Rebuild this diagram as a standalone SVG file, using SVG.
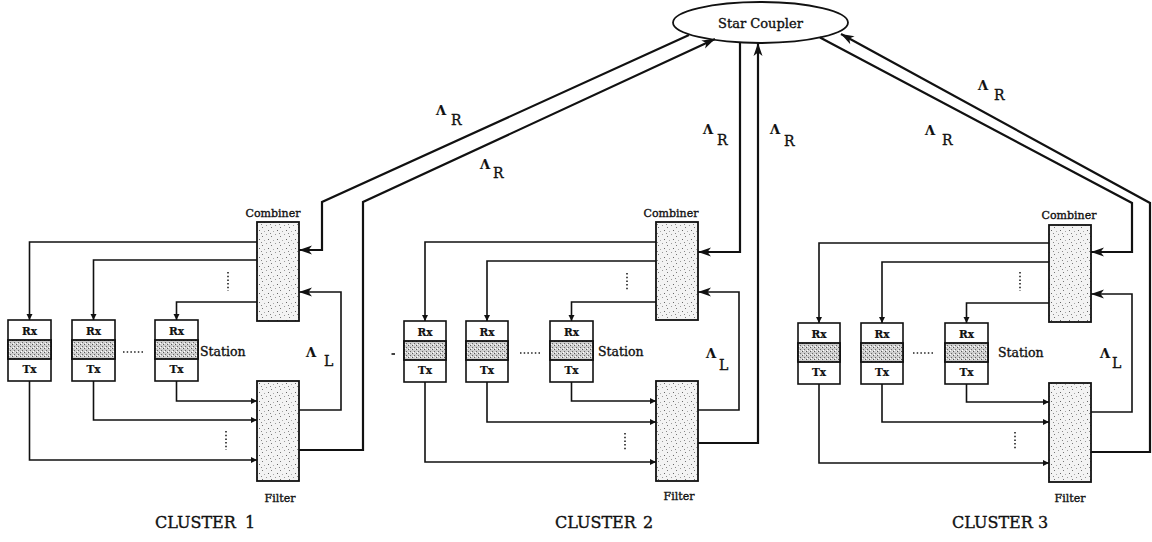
<svg xmlns="http://www.w3.org/2000/svg" width="1152" height="542" viewBox="0 0 1152 542">
<style>
 .ln{fill:none;stroke:#111;stroke-width:1.6}
 .th{fill:none;stroke:#111;stroke-width:2.2}
 .box{fill:url(#stip);stroke:#111;stroke-width:1.8}
 .st{fill:#fff;stroke:#111;stroke-width:1.6}
 .band{fill:url(#dense);stroke:#111;stroke-width:1.8}
 .dots{fill:none;stroke:#222;stroke-width:1.6;stroke-dasharray:1.5 2.2}
 .cpl{fill:#fff;stroke:#111;stroke-width:1.8}
 text{font-family:"DejaVu Serif","Liberation Serif",serif;fill:#111;stroke:#111;stroke-width:0.35}
 .lbl{font-size:11px;text-anchor:middle}
 .sta{font-size:12.5px}
 .rt{font-size:10.5px;font-weight:bold;text-anchor:middle;stroke-width:0.2}
 .cl{font-size:16px}
 .lam{font-size:13px;font-weight:bold;stroke-width:0.2}
 .sub{font-size:14px}
</style>
<defs>
 <pattern id="stip" width="9" height="9" patternUnits="userSpaceOnUse">
  <rect width="9" height="9" fill="#f3f3f3"/>
  <rect x="1" y="2" width="1" height="1" fill="#777"/>
  <rect x="5" y="0" width="1" height="1" fill="#999"/>
  <rect x="7" y="5" width="1" height="1" fill="#666"/>
  <rect x="3" y="6" width="1" height="1" fill="#aaa"/>
  <rect x="0" y="8" width="1" height="1" fill="#888"/>
 </pattern>
 <pattern id="dense" width="4" height="4" patternUnits="userSpaceOnUse">
  <rect width="4" height="4" fill="#cdcdcd"/>
  <rect x="0" y="0" width="1" height="1" fill="#555"/>
  <rect x="2" y="2" width="1" height="1" fill="#666"/>
  <rect x="3" y="0" width="1" height="1" fill="#eee"/>
  <rect x="1" y="3" width="1" height="1" fill="#fff"/>
 </pattern>
 <marker id="big" markerUnits="userSpaceOnUse" markerWidth="14" markerHeight="10" refX="13" refY="5" orient="auto" overflow="visible">
  <path d="M0,0.5 L13,5 L0,9.5 L3.5,5 z" fill="#111"/>
 </marker>
 <marker id="sm" markerUnits="userSpaceOnUse" markerWidth="7" markerHeight="6" refX="6" refY="3" orient="auto" overflow="visible">
  <path d="M0,0 L6,3 L0,6 z" fill="#111"/>
 </marker>
</defs>
<rect width="1152" height="542" fill="#fff"/>

<g id="star-coupler">
 <ellipse class="cpl" cx="760.5" cy="22.5" rx="87.5" ry="20.5"/>
 <text x="760.5" y="28" class="lbl" style="font-size:13px">Star Coupler</text>
</g>

<!-- Cluster 1 -->
<g id="c1-combiner"><rect class="box" x="257" y="222" width="42" height="99"/><text x="273" y="217" class="lbl">Combiner</text></g>
<g id="c1-filter"><rect class="box" x="257" y="381" width="42" height="100"/><text x="280" y="502" class="lbl">Filter</text></g>
<g id="c1-station1" transform="translate(8,320)"><rect class="st" width="43" height="61"/><rect class="band" y="20" width="43" height="19"/><text x="21.5" y="15" class="rt">Rx</text><text x="21.5" y="53" class="rt">Tx</text></g>
<g id="c1-station2" transform="translate(72,320)"><rect class="st" width="43" height="61"/><rect class="band" y="20" width="43" height="19"/><text x="21.5" y="15" class="rt">Rx</text><text x="21.5" y="53" class="rt">Tx</text></g>
<g id="c1-station3" transform="translate(155,320)"><rect class="st" width="43" height="61"/><rect class="band" y="20" width="43" height="19"/><text x="21.5" y="15" class="rt">Rx</text><text x="21.5" y="53" class="rt">Tx</text></g>
<g id="c1-labels">
 <text x="200" y="356" class="sta">Station</text>
 <path class="dots" d="M123,352 H143 M228,272 V291 M226,431 V450"/>
 <text x="306" y="357" class="lam">Λ</text><text x="324" y="366" class="sub">L</text>
 <text x="155" y="528" class="cl">CLUSTER<tspan x="245">1</tspan></text>
</g>

<!-- Cluster 2 -->
<g id="c2-combiner"><rect class="box" x="656" y="222" width="42" height="98"/><text x="671" y="217" class="lbl">Combiner</text></g>
<g id="c2-filter"><rect class="box" x="656" y="381" width="42" height="100"/><text x="679" y="500" class="lbl">Filter</text></g>
<g id="c2-station1" transform="translate(404,321)"><rect class="st" width="42" height="61"/><rect class="band" y="20" width="42" height="19"/><text x="21" y="15" class="rt">Rx</text><text x="21" y="53" class="rt">Tx</text></g>
<g id="c2-station2" transform="translate(466,321)"><rect class="st" width="42" height="61"/><rect class="band" y="20" width="42" height="19"/><text x="21" y="15" class="rt">Rx</text><text x="21" y="53" class="rt">Tx</text></g>
<g id="c2-station3" transform="translate(550,321)"><rect class="st" width="43" height="61"/><rect class="band" y="20" width="43" height="19"/><text x="21.5" y="15" class="rt">Rx</text><text x="21.5" y="53" class="rt">Tx</text></g>
<g id="c2-labels">
 <text x="598" y="356" class="sta">Station</text>
 <path class="dots" d="M520,353 H542 M627,273 V291 M625,433 V451"/>
 <path class="ln" d="M391.5,354 H395"/>
 <text x="706" y="358" class="lam">Λ</text><text x="719" y="370" class="sub">L</text>
 <text x="555" y="528" class="cl">CLUSTER<tspan x="643">2</tspan></text>
</g>

<!-- Cluster 3 -->
<g id="c3-combiner"><rect class="box" x="1049" y="225" width="42" height="97"/><text x="1069" y="219" class="lbl">Combiner</text></g>
<g id="c3-filter"><rect class="box" x="1049" y="383" width="42" height="99"/><text x="1070" y="502" class="lbl">Filter</text></g>
<g id="c3-station1" transform="translate(798,323)"><rect class="st" width="42" height="61"/><rect class="band" y="20" width="42" height="19"/><text x="21" y="15" class="rt">Rx</text><text x="21" y="53" class="rt">Tx</text></g>
<g id="c3-station2" transform="translate(861,323)"><rect class="st" width="42" height="61"/><rect class="band" y="20" width="42" height="19"/><text x="21" y="15" class="rt">Rx</text><text x="21" y="53" class="rt">Tx</text></g>
<g id="c3-station3" transform="translate(945,323)"><rect class="st" width="43" height="61"/><rect class="band" y="20" width="43" height="19"/><text x="21.5" y="15" class="rt">Rx</text><text x="21.5" y="53" class="rt">Tx</text></g>
<g id="c3-labels">
 <text x="998" y="357" class="sta">Station</text>
 <path class="dots" d="M913,353 H935 M1020,272 V291 M1015,432 V449"/>
 <text x="1100" y="358" class="lam">Λ</text><text x="1112" y="368" class="sub">L</text>
 <text x="952" y="528" class="cl">CLUSTER<tspan x="1038">3</tspan></text>
</g>

<g id="lambda-r-labels">
 <text x="436" y="115" class="lam">Λ</text><text x="451" y="125" class="sub">R</text>
 <text x="480" y="169" class="lam">Λ</text><text x="493" y="178" class="sub">R</text>
 <text x="703" y="134" class="lam">Λ</text><text x="717" y="145" class="sub">R</text>
 <text x="770" y="134" class="lam">Λ</text><text x="784" y="146" class="sub">R</text>
 <text x="978" y="90" class="lam">Λ</text><text x="994" y="100" class="sub">R</text>
 <text x="925" y="135" class="lam">Λ</text><text x="942" y="145" class="sub">R</text>
</g>

<g id="connectors">
 <!-- cluster 1 -->
 <path class="ln" d="M257,242 H29.5 V320" marker-end="url(#sm)"/>
 <path class="ln" d="M257,260 H93.5 V320" marker-end="url(#sm)"/>
 <path class="ln" d="M257,302 H176.5 V320" marker-end="url(#sm)"/>
 <path class="ln" d="M176.5,381 V401 H257" marker-end="url(#sm)"/>
 <path class="ln" d="M93.5,381 V420 H257" marker-end="url(#sm)"/>
 <path class="ln" d="M29.5,381 V460 H257" marker-end="url(#sm)"/>
 <path class="ln" d="M299,410 H341 V292 H299" marker-end="url(#big)"/>
 <path class="th" d="M689,35 L322,202 V250 H299" marker-end="url(#big)"/>
 <path class="th" d="M299,450 H363 V202 L715,39" marker-end="url(#big)"/>
 <!-- cluster 2 -->
 <path class="ln" d="M656,242 H425 V321" marker-end="url(#sm)"/>
 <path class="ln" d="M656,261 H487 V321" marker-end="url(#sm)"/>
 <path class="ln" d="M656,302 H571.5 V321" marker-end="url(#sm)"/>
 <path class="ln" d="M571.5,382 V401 H656" marker-end="url(#sm)"/>
 <path class="ln" d="M487,382 V422 H656" marker-end="url(#sm)"/>
 <path class="ln" d="M425,382 V462 H656" marker-end="url(#sm)"/>
 <path class="ln" d="M698,410 H739 V292 H698" marker-end="url(#big)"/>
 <path class="th" d="M740,42.5 V252 H698" marker-end="url(#big)"/>
 <path class="th" d="M698,443 H758 V43" marker-end="url(#big)"/>
 <!-- cluster 3 -->
 <path class="ln" d="M1049,243 H819 V323" marker-end="url(#sm)"/>
 <path class="ln" d="M1049,262 H882 V323" marker-end="url(#sm)"/>
 <path class="ln" d="M1049,303 H966.5 V323" marker-end="url(#sm)"/>
 <path class="ln" d="M966.5,384 V402 H1049" marker-end="url(#sm)"/>
 <path class="ln" d="M882,384 V422 H1049" marker-end="url(#sm)"/>
 <path class="ln" d="M819,384 V463 H1049" marker-end="url(#sm)"/>
 <path class="ln" d="M1091,412 H1132 V294 H1091" marker-end="url(#big)"/>
 <path class="th" d="M820,37.5 L1132,203 V252 H1091" marker-end="url(#big)"/>
 <path class="th" d="M1091,452 H1150 V203 L841,34" marker-end="url(#big)"/>
</g>
</svg>
